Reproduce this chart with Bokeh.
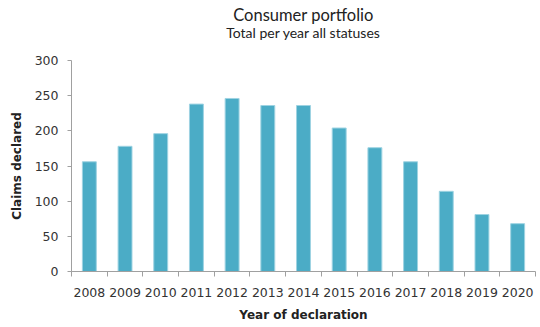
from bokeh.plotting import figure
from bokeh.models import FixedTicker, Range1d, Title, ColumnDataSource, LinearAxis
from bokeh.embed import file_html
from bokeh.resources import INLINE

years = ["2008", "2009", "2010", "2011", "2012", "2013", "2014",
         "2015", "2016", "2017", "2018", "2019", "2020"]
claims = [156, 178, 196, 238, 246, 236, 236, 204, 176, 156, 114, 81, 68]
y_ticks = [0, 50, 100, 150, 200, 250, 300]

xs = [i + 0.5 for i in range(len(years))]
src = ColumnDataSource(dict(x=xs, top=claims, year=years))

p = figure(width=536, height=327, output_backend="svg", toolbar_location=None,
           x_range=Range1d(0, len(years)), y_range=Range1d(0, 300),
           min_border_left=71, min_border_right=1, min_border_top=60,
           min_border_bottom=56)

# subtitle: label of an empty axis above the frame
sub_axis = LinearAxis(ticker=FixedTicker(ticks=[], minor_ticks=[]),
                      axis_line_color=None, major_tick_line_color=None,
                      minor_tick_line_color=None,
                      axis_label="Total per year all statuses",
                      axis_label_text_font="Lato", axis_label_text_font_size="14px",
                      axis_label_text_font_style="normal",
                      axis_label_text_color="#222222", axis_label_standoff=20)
p.add_layout(sub_axis, "above")

p.add_layout(Title(text="Consumer portfolio", align="center", text_font="Lato",
                   text_font_size="16.5px", text_font_style="normal",
                   text_color="#222222", standoff=-8), "above")

p.vbar(x="x", top="top", width=0.39, source=src, fill_color="#4BACC6",
       line_color="#9ed3e2", line_width=1)

p.outline_line_color = None
p.xgrid.grid_line_color = None
p.ygrid.grid_line_color = None

axis_color = "#a0a0a0"
label_font = "DejaVu Sans"

xaxis = p.below[0]
xaxis.ticker = FixedTicker(ticks=xs, minor_ticks=list(range(len(years) + 1)))
xaxis.major_label_overrides = {x: y for x, y in zip(xs, years)}
xaxis.major_tick_out = 0
xaxis.major_tick_in = 0
xaxis.minor_tick_out = 5
xaxis.minor_tick_in = 0
xaxis.minor_tick_line_color = axis_color
xaxis.axis_line_color = axis_color
xaxis.major_label_standoff = 11
xaxis.major_label_text_font = label_font
xaxis.major_label_text_font_size = "12.5px"
xaxis.major_label_text_color = "#333333"
xaxis.axis_label = "Year of declaration"
xaxis.axis_label_text_font = label_font
xaxis.axis_label_text_font_size = "12px"
xaxis.axis_label_text_font_style = "bold"
xaxis.axis_label_text_color = "#222222"
xaxis.axis_label_standoff = 8

p.yaxis.ticker = FixedTicker(ticks=y_ticks, minor_ticks=[])
p.yaxis.major_tick_out = 4
p.yaxis.major_tick_in = 0
p.yaxis.major_tick_line_color = axis_color
p.yaxis.axis_line_color = axis_color
p.yaxis.major_label_standoff = 9
p.yaxis.major_label_text_font = label_font
p.yaxis.major_label_text_font_size = "12.5px"
p.yaxis.major_label_text_color = "#333333"
p.yaxis.axis_label = "Claims declared"
p.yaxis.axis_label_text_font = label_font
p.yaxis.axis_label_text_font_size = "12px"
p.yaxis.axis_label_text_font_style = "bold"
p.yaxis.axis_label_text_color = "#222222"
p.yaxis.axis_label_standoff = 8

open("out.html", "w").write(file_html(p, INLINE))
